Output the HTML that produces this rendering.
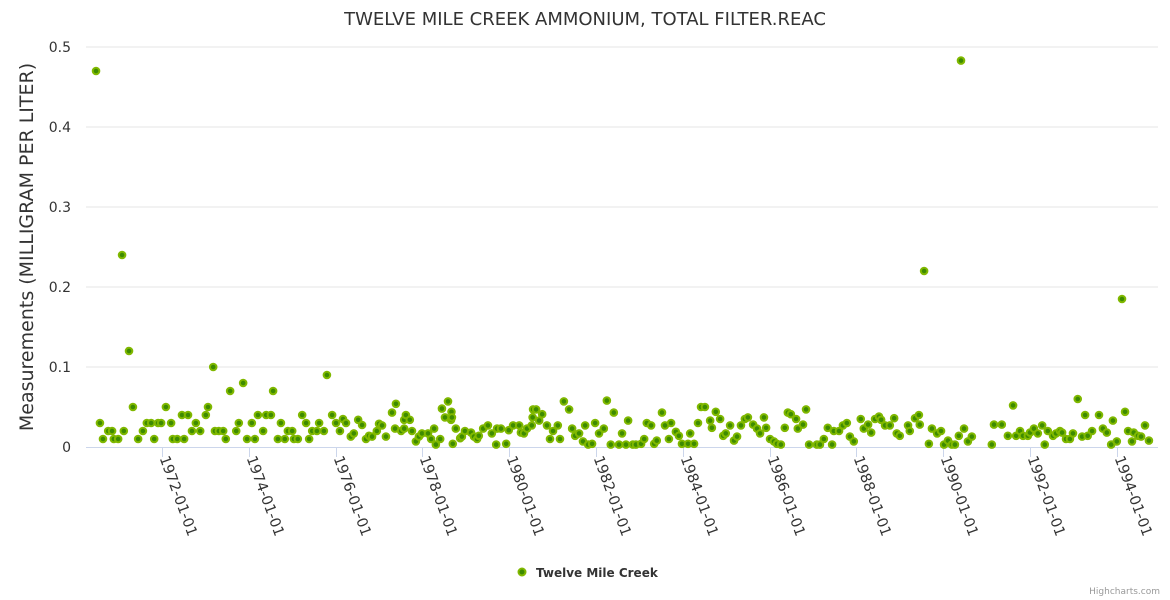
<!DOCTYPE html>
<html><head><meta charset="utf-8"><style>
body{margin:0;background:#fff;}
svg{display:block;font-family:"DejaVu Sans","Liberation Sans",sans-serif;}
</style></head><body>
<svg id="chart" width="1170" height="600">
<text x="585" y="25" text-anchor="middle" font-size="18" fill="#333">TWELVE MILE CREEK AMMONIUM, TOTAL FILTER.REAC</text>
<text transform="translate(33,247) rotate(-90)" text-anchor="middle" font-size="19" fill="#333">Measurements (MILLIGRAM PER LITER)</text>
<g id="grid"></g>
<g id="yticks"></g>
<g id="xaxis"></g>
<g id="points"></g>
<g>
<circle cx="522" cy="572" r="3.5" fill="#3d8b00" stroke="#80b800" stroke-width="2"/>
<text x="536" y="577" font-size="12" font-weight="bold" fill="#333">Twelve Mile Creek</text>
</g>
<text x="1160" y="594" text-anchor="end" font-size="9" fill="#999">Highcharts.com</text>
</svg>
<script>
const years=[1970.48,1970.57,1970.64,1970.76,1970.85,1970.89,1970.99,1971.08,1971.12,1971.24,1971.33,1971.45,1971.56,1971.65,1971.75,1971.82,1971.91,1971.98,1972.09,1972.21,1972.25,1972.35,1972.46,1972.51,1972.60,1972.69,1972.78,1972.88,1973.01,1973.06,1973.18,1973.22,1973.31,1973.41,1973.47,1973.57,1973.71,1973.77,1973.87,1973.96,1974.07,1974.14,1974.21,1974.33,1974.40,1974.51,1974.56,1974.67,1974.74,1974.83,1974.90,1975.00,1975.04,1975.13,1975.23,1975.32,1975.39,1975.46,1975.57,1975.62,1975.73,1975.80,1975.92,1976.01,1976.10,1976.17,1976.24,1976.35,1976.42,1976.52,
1976.61,1976.70,1976.77,1976.84,1976.95,1977.00,1977.07,1977.16,1977.30,1977.37,1977.39,1977.51,1977.58,1977.58,1977.62,1977.71,1977.76,1977.85,1977.92,1977.99,1978.13,1978.20,1978.27,1978.31,1978.41,1978.45,1978.52,1978.59,1978.66,1978.67,1978.68,1978.70,1978.77,1978.87,1978.91,1978.98,1979.12,1979.19,1979.26,1979.30,1979.40,1979.51,1979.60,1979.70,1979.72,1979.81,1979.93,1979.99,1980.09,1980.23,1980.27,1980.34,1980.41,1980.52,1980.55,1980.54,1980.62,1980.69,1980.76,1980.87,1980.94,1981.01,1981.12,1981.17,1981.26,1981.38,1981.45,1981.52,1981.61,1981.70,1981.75,1981.82,1981.91,1981.98,1982.07,1982.18,1982.25,1982.34,1982.41,1982.53,1982.60,1982.69,1982.74,
1982.85,1982.92,1983.04,1983.11,1983.17,1983.27,1983.34,1983.40,1983.52,1983.59,1983.68,1983.73,1983.84,1983.91,1983.98,1984.12,1984.17,1984.26,1984.35,1984.42,1984.51,1984.63,1984.67,1984.76,1984.86,1984.93,1984.99,1985.09,1985.18,1985.25,1985.34,1985.43,1985.50,1985.62,1985.71,1985.78,1985.87,1985.92,1986.01,1986.10,1986.17,1986.26,1986.35,1986.42,1986.49,1986.61,1986.65,1986.77,1986.84,1986.91,1987.09,1987.16,1987.25,1987.34,1987.44,1987.48,1987.60,1987.69,1987.78,1987.85,1987.94,1988.10,1988.17,1988.27,1988.34,1988.43,1988.52,1988.57,1988.66,1988.77,1988.87,1988.93,
1989.00,1989.19,1989.23,1989.35,1989.44,1989.46,1989.56,1989.67,1989.74,1989.86,1989.95,1990.02,1990.11,1990.20,1990.27,1990.36,1990.41,1990.48,1990.57,1990.66,1991.12,1991.17,1991.35,1991.49,1991.61,1991.68,1991.77,1991.84,1991.95,1992.00,1992.09,1992.18,1992.28,1992.34,1992.41,1992.53,1992.60,1992.69,1992.74,1992.83,1992.92,1992.99,1993.10,1993.20,1993.27,1993.33,1993.43,1993.59,1993.68,1993.77,1993.87,1993.91,1994.00,1994.12,1994.19,1994.26,1994.35,1994.39,1994.49,1994.56,1994.65,1994.74];
const values=[0.47,0.03,0.01,0.02,0.02,0.01,0.01,0.24,0.02,0.12,0.05,0.01,0.02,0.03,0.03,0.01,0.03,0.03,0.05,0.03,0.01,0.01,0.04,0.01,0.04,0.02,0.03,0.02,0.04,0.05,0.10,0.02,0.02,0.02,0.01,0.07,0.02,0.03,0.08,0.01,0.03,0.01,0.04,0.02,0.04,0.04,0.07,0.01,0.03,0.01,0.02,0.02,0.01,0.01,0.04,0.03,0.01,0.02,0.02,0.03,0.02,0.09,0.04,0.03,0.02,0.035,0.03,0.013,0.017,0.034,
0.0275,0.010,0.014,0.013,0.020,0.029,0.027,0.013,0.043,0.023,0.054,0.020,0.023,0.034,0.040,0.034,0.020,0.007,0.013,0.017,0.017,0.010,0.023,0.003,0.010,0.048,0.037,0.057,0.034,0.044,0.037,0.004,0.023,0.011,0.013,0.020,0.018,0.013,0.010,0.014,0.023,0.027,0.017,0.003,0.023,0.023,0.004,0.021,0.027,0.027,0.018,0.017,0.023,0.027,0.047,0.037,0.047,0.033,0.041,0.027,0.010,0.020,0.027,0.010,0.057,0.047,0.023,0.014,0.017,0.007,0.027,0.003,0.004,0.030,0.017,0.023,0.058,0.003,0.043,0.003,0.017,0.003,0.033,
0.003,0.003,0.004,0.010,0.030,0.027,0.004,0.008,0.043,0.027,0.010,0.030,0.019,0.014,0.004,0.004,0.017,0.004,0.030,0.050,0.050,0.033,0.024,0.044,0.035,0.014,0.017,0.027,0.008,0.013,0.027,0.035,0.037,0.028,0.023,0.017,0.037,0.024,0.010,0.007,0.004,0.003,0.024,0.043,0.041,0.035,0.023,0.028,0.047,0.003,0.003,0.003,0.010,0.024,0.003,0.020,0.020,0.027,0.030,0.013,0.007,0.035,0.023,0.028,0.018,0.035,0.038,0.034,0.027,0.027,0.036,0.017,
0.014,0.027,0.020,0.036,0.040,0.028,0.22,0.004,0.023,0.017,0.020,0.003,0.008,0.003,0.003,0.014,0.483,0.023,0.007,0.013,0.003,0.028,0.028,0.014,0.052,0.014,0.020,0.014,0.014,0.018,0.023,0.017,0.027,0.003,0.020,0.014,0.017,0.020,0.018,0.010,0.010,0.017,0.060,0.013,0.040,0.014,0.020,0.040,0.023,0.018,0.003,0.033,0.007,0.185,0.044,0.020,0.007,0.018,0.014,0.013,0.027,0.008];
const yTicks=[0,0.1,0.2,0.3,0.4,0.5];
const yTickLabels=["0","0.1","0.2","0.3","0.4","0.5"];
const xTicks=[1972,1974,1976,1978,1980,1982,1984,1986,1988,1990,1992,1994];
const xTickLabels=["1972-01-01","1974-01-01","1976-01-01","1978-01-01","1980-01-01","1982-01-01","1984-01-01","1986-01-01","1988-01-01","1990-01-01","1992-01-01","1994-01-01"];
const NS="http://www.w3.org/2000/svg";
const L=86,R=1158,T=47,B=447;
const xS=y=>162+(y-1972)*43.4;
const yS=v=>B-(v/0.5)*(B-T);
const grid=document.getElementById('grid'),yt=document.getElementById('yticks'),xa=document.getElementById('xaxis'),pts=document.getElementById('points');
yTicks.forEach((t,i)=>{
  if(t>0){const l=document.createElementNS(NS,'line');
  
  
  l.setAttribute('x1',L);l.setAttribute('x2',R);l.setAttribute('y1',yS(t));l.setAttribute('y2',yS(t));l.setAttribute('stroke','#e6e6e6');grid.appendChild(l);}
  const tx=document.createElementNS(NS,'text');
  
  
  tx.setAttribute('x',71);tx.setAttribute('y',yS(t)+5);tx.setAttribute('text-anchor','end');tx.setAttribute('font-size','14');tx.setAttribute('fill','#333');tx.textContent=yTickLabels[i];yt.appendChild(tx);
});
const ax=document.createElementNS(NS,'line');


ax.setAttribute('x1',L);ax.setAttribute('x2',R);ax.setAttribute('y1',B+0.5);ax.setAttribute('y2',B+0.5);ax.setAttribute('stroke','#ccd6eb');xa.appendChild(ax);
xTicks.forEach((t,i)=>{
  const x=Math.round(xS(t))+0.5;
  const tk=document.createElementNS(NS,'line');
  
  
  tk.setAttribute('x1',x);tk.setAttribute('x2',x);tk.setAttribute('y1',B);tk.setAttribute('y2',B+10);tk.setAttribute('stroke','#ccd6eb');xa.appendChild(tk);
  const tx=document.createElementNS(NS,'text');
  
  
  tx.setAttribute('transform','translate('+(x-3)+','+(B+11)+') rotate(70)');tx.setAttribute('font-size','14.5');tx.setAttribute('fill','#333');tx.textContent=xTickLabels[i];xa.appendChild(tx);
});
years.forEach((yr,i)=>{
  const c=document.createElementNS(NS,'circle');
  
  
  c.setAttribute('cx',xS(yr));c.setAttribute('cy',yS(values[i]));c.setAttribute('r','3.3');c.setAttribute('fill','#3d8b00');c.setAttribute('stroke','#80b800');c.setAttribute('stroke-width','2');pts.appendChild(c);
});
</script>
</body></html>
